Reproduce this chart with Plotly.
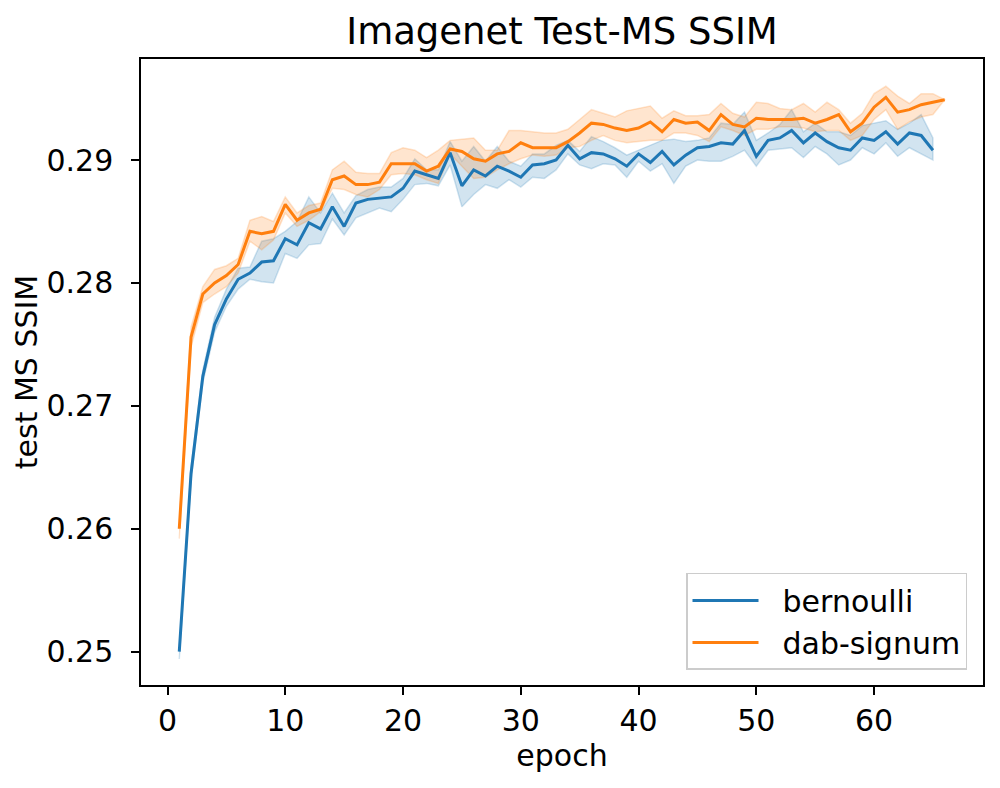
import plotly.graph_objects as go

epochs_b = list(range(1, 66))
epochs_o = list(range(1, 67))

bern_mean = [0.2500, 0.2645, 0.2724, 0.2766, 0.2787, 0.2803, 0.2808, 0.2817, 0.2818, 0.2836,
             0.2831, 0.2849, 0.2844, 0.2862, 0.2846, 0.2865, 0.2868, 0.2869, 0.2870, 0.2877,
             0.2891, 0.2888, 0.2885, 0.2906, 0.2879, 0.2892, 0.2887, 0.2895, 0.2891, 0.2886,
             0.2896, 0.2897, 0.2900, 0.2912, 0.2901, 0.2906, 0.2905, 0.2901, 0.2895, 0.2905,
             0.2898, 0.2907, 0.2896, 0.2904, 0.2910, 0.2911, 0.2914, 0.2913, 0.2924, 0.2903,
             0.2916, 0.2918, 0.2924, 0.2914, 0.2922, 0.2915, 0.2910, 0.2908, 0.2918, 0.2916,
             0.2923, 0.2913, 0.2922, 0.2920, 0.2908]
bern_lo = [0.2494, 0.2640, 0.2719, 0.2760, 0.2781, 0.2795, 0.2803, 0.2801, 0.2800, 0.2824,
           0.2820, 0.2831, 0.2832, 0.2852, 0.2839, 0.2853, 0.2857, 0.2861, 0.2858, 0.2868,
           0.2880, 0.2881, 0.2879, 0.2896, 0.2862, 0.2872, 0.2880, 0.2877, 0.2884, 0.2878,
           0.2886, 0.2885, 0.2892, 0.2905, 0.2896, 0.2893, 0.2897, 0.2896, 0.2886, 0.2899,
           0.2891, 0.2897, 0.2881, 0.2895, 0.2900, 0.2899, 0.2899, 0.2903, 0.2908, 0.2895,
           0.2908, 0.2909, 0.2910, 0.2902, 0.2911, 0.2905, 0.2896, 0.2900, 0.2910, 0.2905,
           0.2914, 0.2903, 0.2910, 0.2905, 0.2900]
bern_hi = [0.2502, 0.2650, 0.2729, 0.2772, 0.2795, 0.2812, 0.2813, 0.2834, 0.2836, 0.2842,
           0.2850, 0.2870, 0.2857, 0.2873, 0.2857, 0.2871, 0.2876, 0.2878, 0.2878, 0.2885,
           0.2901, 0.2892, 0.2892, 0.2915, 0.2899, 0.2911, 0.2899, 0.2911, 0.2899, 0.2895,
           0.2905, 0.2905, 0.2912, 0.2916, 0.2907, 0.2919, 0.2915, 0.2910, 0.2904, 0.2908,
           0.2912, 0.2916, 0.2917, 0.2915, 0.2916, 0.2918, 0.2930, 0.2929, 0.2939, 0.2916,
           0.2922, 0.2929, 0.2941, 0.2923, 0.2930, 0.2923, 0.2923, 0.2920, 0.2928, 0.2930,
           0.2932, 0.2925, 0.2930, 0.2937, 0.2918]

dab_mean = [0.2600, 0.2756, 0.2791, 0.2800, 0.2806, 0.2815, 0.2842, 0.2840, 0.2842, 0.2864,
            0.2851, 0.2857, 0.2860, 0.2884, 0.2887, 0.2880, 0.2880, 0.2882, 0.2897, 0.2897,
            0.2897, 0.2891, 0.2895, 0.2909, 0.2907, 0.2901, 0.2899, 0.2905, 0.2907, 0.2914,
            0.2910, 0.2910, 0.2910, 0.2915, 0.2922, 0.2930, 0.2929, 0.2926, 0.2924, 0.2926,
            0.2931, 0.2923, 0.2933, 0.2930, 0.2931, 0.2924, 0.2937, 0.2929, 0.2927, 0.2934,
            0.2933, 0.2933, 0.2933, 0.2934, 0.2930, 0.2933, 0.2937, 0.2923, 0.2930, 0.2943,
            0.2951, 0.2939, 0.2941, 0.2945, 0.2947, 0.2949]
dab_lo = [0.2592, 0.2748, 0.2784, 0.2791, 0.2797, 0.2808, 0.2834, 0.2827, 0.2835, 0.2857,
          0.2846, 0.2851, 0.2858, 0.2877, 0.2876, 0.2872, 0.2870, 0.2876, 0.2888, 0.2889,
          0.2888, 0.2884, 0.2881, 0.2905, 0.2895, 0.2885, 0.2886, 0.2892, 0.2897, 0.2901,
          0.2904, 0.2903, 0.2904, 0.2910, 0.2911, 0.2916, 0.2920, 0.2916, 0.2914, 0.2915,
          0.2916, 0.2916, 0.2922, 0.2922, 0.2920, 0.2915, 0.2927, 0.2924, 0.2920, 0.2925,
          0.2925, 0.2927, 0.2927, 0.2926, 0.2923, 0.2924, 0.2924, 0.2916, 0.2920, 0.2933,
          0.2941, 0.2925, 0.2931, 0.2935, 0.2937, 0.2949]
dab_hi = [0.2603, 0.2764, 0.2797, 0.2811, 0.2814, 0.2820, 0.2851, 0.2854, 0.2850, 0.2870,
          0.2857, 0.2863, 0.2865, 0.2892, 0.2899, 0.2890, 0.2889, 0.2889, 0.2906, 0.2910,
          0.2908, 0.2902, 0.2908, 0.2916, 0.2917, 0.2918, 0.2908, 0.2908, 0.2924, 0.2924,
          0.2923, 0.2922, 0.2922, 0.2925, 0.2933, 0.2941, 0.2938, 0.2935, 0.2940, 0.2942,
          0.2944, 0.2934, 0.2940, 0.2936, 0.2936, 0.2937, 0.2946, 0.2938, 0.2935, 0.2947,
          0.2946, 0.2942, 0.2941, 0.2946, 0.2939, 0.2947, 0.2941, 0.2930, 0.2938, 0.2954,
          0.2960, 0.2952, 0.2946, 0.2954, 0.2954, 0.2949]

x_ticks = [0, 10, 20, 30, 40, 50, 60]
y_ticks = [0.25, 0.26, 0.27, 0.28, 0.29]
series_names = ["bernoulli", "dab-signum"]

BLUE = "#1f77b4"
ORANGE = "#ff7f0e"
BLUE_A = "rgba(31,119,180,0.2)"
ORANGE_A = "rgba(255,127,14,0.2)"

fig = go.Figure()

for xs, lo, hi, ca in [(epochs_b, bern_lo, bern_hi, BLUE_A), (epochs_o, dab_lo, dab_hi, ORANGE_A)]:
    fig.add_trace(go.Scatter(
        x=list(xs) + list(xs)[::-1],
        y=list(hi) + list(lo)[::-1],
        fill="toself", fillcolor=ca,
        line=dict(color=ca, width=1.5),
        mode="lines", showlegend=False, hoverinfo="skip"))

PAD = "\u00a0\u00a0"
fig.add_trace(go.Scatter(x=epochs_b, y=bern_mean, mode="lines", name=PAD + series_names[0],
                         line=dict(color=BLUE, width=3)))
fig.add_trace(go.Scatter(x=epochs_o, y=dab_mean, mode="lines", name=PAD + series_names[1],
                         line=dict(color=ORANGE, width=3)))

FONT = "DejaVu Sans"

fig.update_layout(
    width=1000, height=788,
    margin=dict(l=141, r=17, t=59, b=103),
    paper_bgcolor="white", plot_bgcolor="white",
    font=dict(family=FONT, size=30, color="black"),
    title=dict(text="Imagenet Test-MS SSIM", x=0.5, xref="paper", xanchor="center",
               y=1 - 31 / 788, yref="container", yanchor="middle",
               font=dict(family=FONT, size=37, color="black")),
    legend=dict(x=0.981, y=0.024, xanchor="right", yanchor="bottom",
                bgcolor="rgba(255,255,255,0.8)", bordercolor="#cccccc", borderwidth=1.5,
                font=dict(family=FONT, size=30, color="black"),
                tracegroupgap=0, itemwidth=66),
    showlegend=True,
)

fig.update_xaxes(
    range=[-2.25, 69.25], tickvals=x_ticks, ticktext=[str(v) for v in x_ticks],
    showgrid=False, zeroline=False, showline=True, linecolor="black", linewidth=1.5,
    mirror=True, ticks="outside", ticklen=8, tickwidth=1.5, tickcolor="black",
    tickfont=dict(family=FONT, size=30, color="black"),
    title=dict(text="epoch", font=dict(family=FONT, size=30, color="black"), standoff=8),
)
fig.update_yaxes(
    range=[0.24729, 0.29822], tickvals=y_ticks, ticktext=[f"{v:.2f}" for v in y_ticks],
    showgrid=False, zeroline=False, showline=True, linecolor="black", linewidth=1.5,
    mirror=True, ticks="outside", ticklen=8, tickwidth=1.5, tickcolor="black",
    ticklabelstandoff=12,
    tickfont=dict(family=FONT, size=30, color="black"),
    title=dict(text="test MS SSIM", font=dict(family=FONT, size=30, color="black"), standoff=0),
)

fig.write_html("out.html")
